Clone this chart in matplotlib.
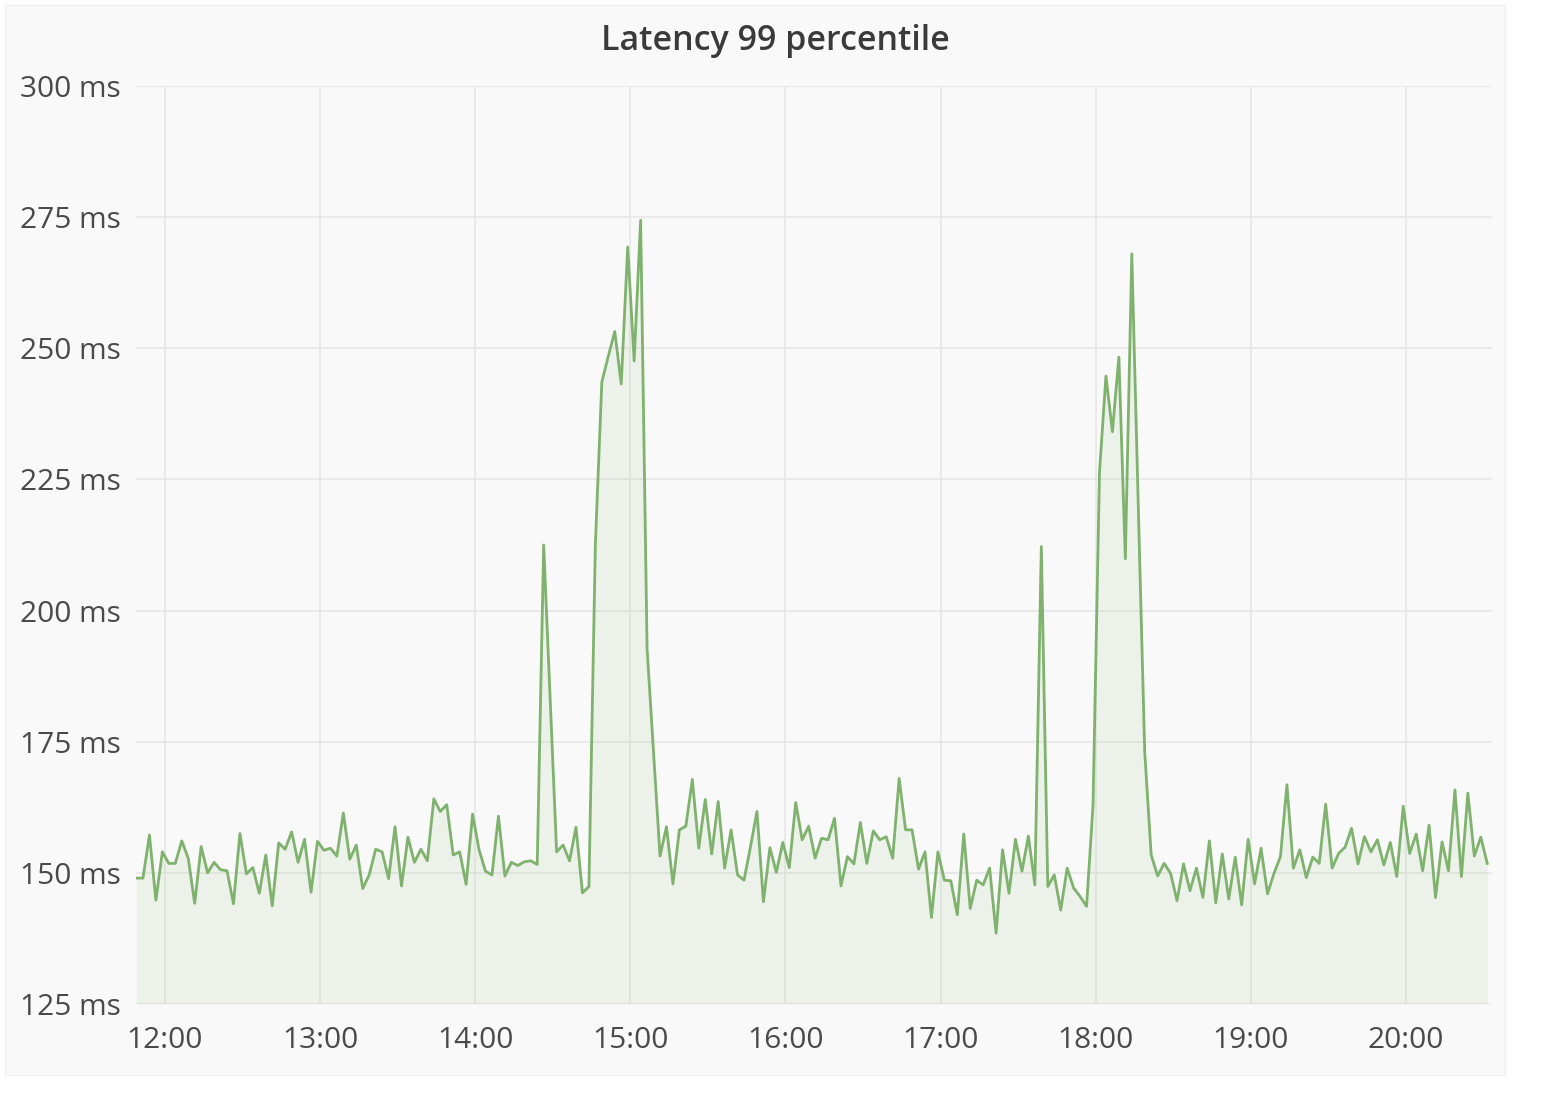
import matplotlib
matplotlib.use("Agg")
import matplotlib.pyplot as plt
import matplotlib.dates as mdates
from matplotlib.patches import Rectangle
from matplotlib.ticker import FuncFormatter, MultipleLocator
import pandas as pd

# p99 latency samples (ms), one every 2.5 minutes from 11:49
latency = [
    149.0, 149.0, 157.2, 144.8, 154.0, 151.8, 151.8, 156.1, 152.8, 144.2,
    155.0, 150.0, 152.0, 150.6, 150.4, 144.1, 157.5, 149.8, 151.0, 146.1,
    153.4, 143.7, 155.7, 154.5, 157.8, 152.0, 156.4,
    146.3, 156.0, 154.3, 154.7, 153.2, 161.4, 152.6, 155.3, 147.0, 149.6,
    154.5, 154.0, 148.9, 158.8, 147.5, 156.8, 152.0, 154.5, 152.3, 164.1,
    161.7, 163.0, 153.4, 154.0, 147.8, 161.2,
    154.4, 150.3, 149.6, 160.8, 149.4, 152.0, 151.4, 152.1, 152.3, 151.6,
    212.5, 183.0, 154.0, 155.3, 152.3, 158.7, 146.2, 147.4,
    212.7, 243.6, 248.5, 253.2, 243.2, 269.3, 247.6, 274.4, 192.7, 173.0,
    153.2, 158.8, 147.9, 158.2, 158.9, 167.8, 154.7, 164.0, 153.6, 163.6,
    150.9, 158.2, 149.6, 148.6, 155.0, 161.7, 144.5, 154.8, 150.1, 155.8,
    151.0, 163.4, 156.3, 158.9, 152.8, 156.6,
    156.3, 160.4, 147.5, 153.1, 151.7, 159.6, 151.8, 158.0, 156.3, 156.9,
    152.8, 168.0, 158.2, 158.2, 150.7, 154.0, 141.5, 154.0, 148.6, 148.5,
    142.0, 157.4, 143.2, 148.6, 147.7, 150.9, 138.5,
    154.4, 146.1, 156.4, 150.3, 157.0, 147.7, 212.2, 147.4, 149.6, 142.9,
    150.9, 147.1, 145.5, 143.6,
    162.9, 226.4, 244.7, 234.1, 248.3, 209.9, 268.0, 220.0, 173.0,
    153.4, 149.4, 151.8, 149.9, 144.7, 151.7, 146.6, 150.9, 145.3, 156.1,
    144.3, 153.6, 145.0, 153.0, 143.9, 156.4, 147.9, 154.7, 146.0, 149.9,
    153.1, 166.8, 150.9, 154.4, 149.1, 153.0,
    151.8, 163.1, 150.9, 153.7, 154.9, 158.5, 151.7, 156.9, 154.0, 156.3,
    151.5, 155.8, 149.3, 162.7, 153.7, 157.4, 150.4, 159.1, 145.3, 155.9,
    150.4, 165.8, 149.3, 165.2, 153.2, 156.8, 151.8,
]
times = pd.date_range("2018-01-01 11:49:00", periods=len(latency), freq="150s")

title = "Latency 99 percentile"
line_color = "#7eb26d"
panel_bg = "#f9f9f9"
text_color = "#4a4a4a"

plt.rcParams["font.family"] = ["Open Sans", "DejaVu Sans"]

W, H = 1550, 1096
fig = plt.figure(figsize=(W / 100, H / 100), dpi=100)
fig.patch.set_facecolor("white")
fig.patches.append(Rectangle((5 / W, 1 - 1075 / H), 1500 / W, 1070 / H,
                             transform=fig.transFigure, facecolor=panel_bg,
                             edgecolor="#f0f0f0", lw=1, zorder=-1))

ax = fig.add_axes([136 / W, 1 - 1004 / H, (1492 - 136) / W, (1004 - 86) / H])
ax.set_facecolor(panel_bg)

ax.plot(times, latency, color=line_color, lw=2.0, zorder=3)
ax.fill_between(times, latency, 125, color=line_color, alpha=0.1, lw=0, zorder=2)

ax.set_ylim(125, 300)
ax.yaxis.set_major_locator(MultipleLocator(25))
ax.yaxis.set_major_formatter(FuncFormatter(lambda v, p: f"{v:.0f} ms"))

ax.set_xlim(pd.Timestamp("2018-01-01 11:48:48"), pd.Timestamp("2018-01-01 20:33:20"))
ax.xaxis.set_major_locator(mdates.HourLocator())
ax.xaxis.set_major_formatter(mdates.DateFormatter("%H:%M"))

ax.grid(True, color="#e6e6e6", lw=1.2, zorder=0)
ax.set_axisbelow(True)
for s in ax.spines.values():
    s.set_visible(False)
ax.tick_params(axis="both", length=0, labelsize=21.5, colors=text_color)
ax.tick_params(axis="x", pad=16)
ax.tick_params(axis="y", pad=11)

fig.text(0.5, 1 - 41 / H, title, ha="center", va="center", fontsize=24.5,
         fontweight="semibold", color="#3a3a3a")

fig.savefig("out.png", dpi=100, facecolor=fig.get_facecolor())
